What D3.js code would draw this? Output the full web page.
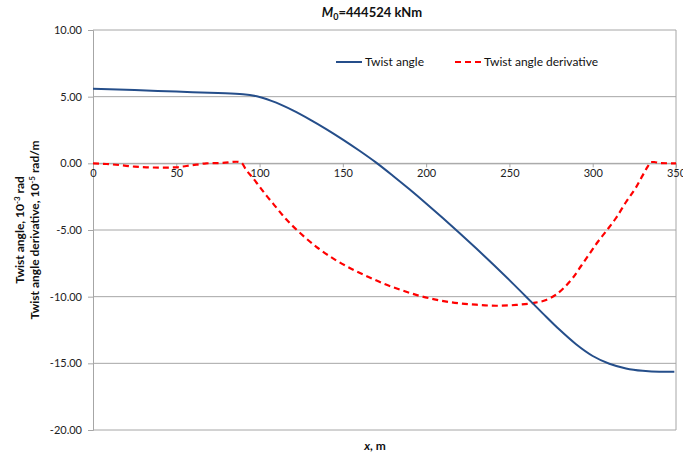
<!DOCTYPE html>
<html>
<head>
<meta charset="utf-8">
<script src="https://cdn.jsdelivr.net/npm/d3@7"></script>
<style>
  body { margin: 0; background: #fff; }
  svg text { font-family: Lato, "Open Sans", sans-serif; }
</style>
</head>
<body>
<div id="chart"></div>
<script>
// twist angle (10^-3 rad) along x (m)
const twistX = [0, 25, 50, 75, 90, 100, 110, 120, 130, 140, 150, 160, 170, 180, 190, 200, 210, 220, 230, 240, 250, 260, 270, 280, 290, 300, 310, 320, 330, 340, 349];
const twistY = [5.6, 5.5, 5.38, 5.27, 5.18, 4.98, 4.55, 3.97, 3.3, 2.57, 1.78, 0.94, 0.05, -0.93, -1.95, -3.01, -4.1, -5.22, -6.37, -7.55, -8.76, -10.0, -11.25, -12.47, -13.57, -14.45, -15.03, -15.38, -15.56, -15.63, -15.63];

// twist angle derivative (10^-5 rad/m)
const derivX = [0, 8, 16, 25, 32, 42, 50, 56, 62, 68, 78, 86, 89, 92, 96, 100, 104, 108, 116, 125, 135, 145, 155, 165, 175, 185, 195, 205, 215, 230, 242, 254, 264, 272, 278, 283, 288, 293, 298, 303, 308, 314, 320, 326, 330, 333, 335, 337, 340, 350];
const derivY = [0, -0.05, -0.13, -0.25, -0.3, -0.32, -0.3, -0.2, -0.1, 0, 0.03, 0.12, 0.05, -0.5, -1.1, -1.75, -2.4, -3.0, -4.2, -5.3, -6.35, -7.2, -7.9, -8.5, -9.05, -9.5, -9.9, -10.2, -10.42, -10.6, -10.68, -10.62, -10.48, -10.25, -9.85, -9.3, -8.6, -7.7, -6.8, -5.9, -5.1, -4.1, -2.9, -1.8, -0.9, -0.25, 0.1, 0.1, 0.02, 0];

const xTicks = [0, 50, 100, 150, 200, 250, 300, 350];
const yTicks = [10, 5, 0, -5, -10, -15, -20];

const width = 683, height = 456;
const margin = {top: 30, right: 7, bottom: 26, left: 93};

const svg = d3.select("#chart").append("svg")
    .attr("width", width)
    .attr("height", height);

const x = d3.scaleLinear().domain([0, 350]).range([margin.left, width - margin.right]);
const y = d3.scaleLinear().domain([-20, 10]).range([height - margin.bottom, margin.top]);

// horizontal gridlines
svg.append("g")
    .selectAll("line")
    .data(yTicks)
    .enter()
    .append("line")
    .attr("x1", x(0))
    .attr("x2", x(350))
    .attr("y1", d => y(d))
    .attr("y2", d => y(d))
    .attr("stroke", "#a6a6a6")
    .attr("stroke-width", 1);

// right border
svg.append("line")
    .attr("x1", x(350)).attr("x2", x(350))
    .attr("y1", y(10)).attr("y2", y(-20))
    .attr("stroke", "#a6a6a6");

// y axis
const yAxis = d3.axisLeft(y).tickValues(yTicks).tickSize(5).tickPadding(6)
    .tickFormat(d => d.toFixed(2));
const gy = svg.append("g")
    .attr("transform", `translate(${x(0)},0)`)
    .call(yAxis);
gy.select(".domain").attr("stroke", "#a6a6a6");
gy.selectAll(".tick line").attr("stroke", "#a6a6a6");
gy.selectAll(".tick text").attr("fill", "#222").style("font-size", "11px");

// x axis through zero
const xAxis = d3.axisBottom(x).tickValues(xTicks).tickSize(4).tickPadding(2);
const gx = svg.append("g")
    .attr("transform", `translate(0,${y(0)})`)
    .call(xAxis);
gx.select(".domain").attr("stroke", "#a6a6a6");
gx.selectAll(".tick line").attr("stroke", "#a6a6a6");
gx.selectAll(".tick text").attr("fill", "#222").style("font-size", "11px");

// lines
const twistData = twistX.map((d, i) => [d, twistY[i]]);
const derivData = derivX.map((d, i) => [d, derivY[i]]);

const line = d3.line()
    .x(d => x(d[0]))
    .y(d => y(d[1]))
    .curve(d3.curveMonotoneX);

svg.append("path")
    .datum(derivData)
    .attr("d", line)
    .attr("fill", "none")
    .attr("stroke", "#ff0000")
    .attr("stroke-width", 2.2)
    .attr("stroke-dasharray", "6,4");

svg.append("path")
    .datum(twistData)
    .attr("d", line)
    .attr("fill", "none")
    .attr("stroke", "#254e8a")
    .attr("stroke-width", 2);

// title
const title = svg.append("text")
    .attr("x", 372)
    .attr("y", 17)
    .attr("text-anchor", "middle")
    .style("font-size", "13px")
    .style("font-weight", "bold")
    .attr("fill", "#111");
title.append("tspan").text("M").style("font-style", "italic");
title.append("tspan").text("0").attr("dy", 3).style("font-size", "9px");
title.append("tspan").text("=444524 kNm").attr("dy", -3);

// legend
const legend = svg.append("g");
legend.append("line")
    .attr("x1", 336).attr("x2", 362).attr("y1", 62).attr("y2", 62)
    .attr("stroke", "#254e8a").attr("stroke-width", 2);
legend.append("text")
    .attr("x", 365).attr("y", 66)
    .style("font-size", "12px").attr("fill", "#111")
    .text("Twist angle");
legend.append("line")
    .attr("x1", 455).attr("x2", 481).attr("y1", 62).attr("y2", 62)
    .attr("stroke", "#ff0000").attr("stroke-width", 2.2)
    .attr("stroke-dasharray", "6,4");
legend.append("text")
    .attr("x", 484).attr("y", 66)
    .style("font-size", "12px").attr("fill", "#111")
    .text("Twist angle derivative");

// y axis title (two lines)
const yTitle = svg.append("text")
    .attr("transform", "translate(24,230) rotate(-90)")
    .attr("text-anchor", "middle")
    .style("font-size", "12px")
    .style("font-weight", "bold")
    .attr("fill", "#111");
yTitle.append("tspan").attr("x", 0).attr("dy", 0).text("Twist angle, 10");
yTitle.append("tspan").text("-3").attr("dy", -4).style("font-size", "8px");
yTitle.append("tspan").text(" rad").attr("dy", 4);
yTitle.append("tspan").attr("x", 0).attr("dy", 15).text("Twist angle derivative, 10");
yTitle.append("tspan").text("-5").attr("dy", -4).style("font-size", "8px");
yTitle.append("tspan").text(" rad/m").attr("dy", 4);

// x axis title
const xTitle = svg.append("text")
    .attr("x", 375)
    .attr("y", 450)
    .attr("text-anchor", "middle")
    .style("font-size", "12px")
    .style("font-weight", "bold")
    .attr("fill", "#111");
xTitle.append("tspan").text("x").style("font-style", "italic");
xTitle.append("tspan").text(", m");
</script>
</body>
</html>
